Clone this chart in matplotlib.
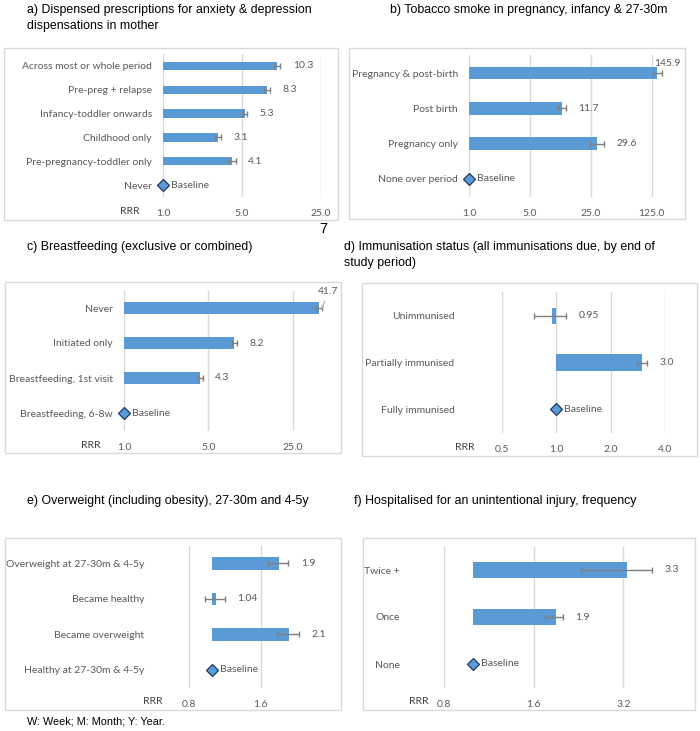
import matplotlib
matplotlib.use("Agg")
import matplotlib.pyplot as plt
from matplotlib import font_manager
from matplotlib.patches import Rectangle
from matplotlib.ticker import NullLocator

W, H = 700, 731

# a) anxiety & depression dispensing
a_labels = ["Across most or whole period", "Pre-preg + relapse", "Infancy-toddler onwards",
            "Childhood only", "Pre-pregnancy-toddler only", "Never"]
a_rrr = [10.3, 8.3, 5.3, 3.1, 4.1]
a_lo = [9.7, 7.8, 5.0, 2.9, 3.8]
a_hi = [11.0, 8.9, 5.6, 3.3, 4.4]
a_ticks = [1.0, 5.0, 25.0]

# b) tobacco smoke
b_labels = ["Pregnancy & post-birth", "Post birth", "Pregnancy only", "None over period"]
b_rrr = [145.9, 11.7, 29.6]
b_lo = [128.0, 10.6, 24.6]
b_hi = [166.0, 12.9, 35.5]
b_ticks = [1.0, 5.0, 25.0, 125.0]

# c) breastfeeding
c_labels = ["Never", "Initiated only", "Breastfeeding, 1st visit", "Breastfeeding, 6-8w"]
c_rrr = [41.7, 8.2, 4.3]
c_lo = [39.0, 7.8, 4.1]
c_hi = [44.0, 8.6, 4.5]
c_ticks = [1.0, 5.0, 25.0]

# d) immunisation
d_labels = ["Unimmunised", "Partially immunised", "Fully immunised"]
d_rrr = [0.95, 3.0]
d_lo = [0.75, 2.8]
d_hi = [1.14, 3.2]
d_ticks = [0.5, 1.0, 2.0, 4.0]

# e) overweight
e_labels = ["Overweight at 27-30m & 4-5y", "Became healthy", "Became overweight",
            "Healthy at 27-30m & 4-5y"]
e_rrr = [1.9, 1.04, 2.1]
e_lo = [1.72, 0.93, 1.87]
e_hi = [2.09, 1.13, 2.31]
e_ticks = [0.8, 1.6]

# f) injury hospitalisation
f_labels = ["Twice +", "Once", "None"]
f_rrr = [3.3, 1.9]
f_lo = [2.3, 1.74]
f_hi = [4.0, 2.0]
f_ticks = [0.8, 1.6, 3.2]

BAR = "#5B9BD5"
GRID = "#D9D9D9"
TXT = "#595959"

installed = {f.name for f in font_manager.fontManager.ttflist}
if "Liberation Sans Narrow" in installed:
    TITLE_FONT, TITLE_SIZE = "Liberation Sans Narrow", 10.6
else:
    TITLE_FONT, TITLE_SIZE = "Liberation Sans", 8.9
BODY_FONT = "Lato"
BODY_SIZE = 7.5

fig = plt.figure(figsize=(W / 100, H / 100), dpi=100)
fig.patch.set_facecolor("white")


def fx(x):
    return x / W


def fy(y):
    return 1 - y / H


def box(x0, y0, x1, y1):
    fig.add_artist(Rectangle((fx(x0), fy(y1)), fx(x1 - x0), (y1 - y0) / H,
                             transform=fig.transFigure, fill=False,
                             edgecolor=GRID, linewidth=1.0))


def title(x, y, text):
    fig.text(fx(x), fy(y), text, fontsize=TITLE_SIZE, family=TITLE_FONT,
             color="black", ha="left", va="center", linespacing=1.45)


def panel(rect, labels, rrr, lo, hi, ticks, xlim, ypad, rrr_pos=None, base=5):
    left, right, top, bottom = rect
    ax = fig.add_axes([fx(left), fy(bottom), fx(right - left), (bottom - top) / H])
    n = len(labels)
    ax.set_xscale("log", base=base)
    ax.set_xlim(*xlim)
    ax.set_ylim(n - 0.5, -0.5)
    for s in ax.spines.values():
        s.set_visible(False)
    ax.set_xticks(ticks)
    ax.set_xticklabels([f"{t:.1f}" for t in ticks])
    ax.xaxis.set_minor_locator(NullLocator())
    ax.xaxis.grid(True, color=GRID, linewidth=1.0)
    ax.set_axisbelow(True)
    ax.set_yticks(range(n))
    ax.set_yticklabels(labels)
    ax.tick_params(axis="both", length=0, colors=TXT, labelsize=BODY_SIZE)
    ax.tick_params(axis="y", pad=ypad)
    ax.tick_params(axis="x", pad=9)
    for t in ax.get_xticklabels() + ax.get_yticklabels():
        t.set_family(BODY_FONT)

    idx = list(range(len(rrr)))
    starts = [min(v, 1.0) for v in rrr]
    widths = [abs(v - 1.0) for v in rrr]
    ax.barh(idx, widths, left=starts, height=0.35, color=BAR, zorder=2)
    ax.errorbar(rrr, idx, xerr=[[v - l for v, l in zip(rrr, lo)],
                                [h - v for v, h in zip(rrr, hi)]],
                fmt="none", ecolor="#7F7F7F", elinewidth=1.0, capsize=2.5,
                capthick=1.0, zorder=3)

    ax.plot(1.0, n - 1, marker="D", ms=6.5, mfc=BAR, mec="#1F3864", mew=0.9,
            clip_on=False, zorder=4)
    ax.annotate("Baseline", (1.0, n - 1), xytext=(6, 0), textcoords="offset points",
                va="center", ha="left", fontsize=BODY_SIZE, family=BODY_FONT,
                color=TXT, annotation_clip=False)
    if rrr_pos is not None:
        fig.text(fx(rrr_pos[0]), fy(rrr_pos[1]), "RRR", fontsize=BODY_SIZE,
                 family=BODY_FONT, color="#404040", ha="center", va="center")
    return ax


def value_labels(ax, rrr, hi, skip=()):
    for i, (v, h) in enumerate(zip(rrr, hi)):
        if i in skip:
            continue
        ax.annotate(str(v), (max(v, h, 1.0), i), xytext=(9, 0),
                    textcoords="offset points", va="center", ha="left",
                    fontsize=BODY_SIZE, family=BODY_FONT, color=TXT,
                    annotation_clip=False)


# boxes
box(4, 48, 338, 220)
box(349, 48, 685, 219)
box(5, 282, 341, 453)
box(362, 283, 697, 456)
box(5, 538, 341, 710)
box(363, 538, 695, 710)

# titles
title(27, 18, "a) Dispensed prescriptions for anxiety & depression\ndispensations in mother")
title(390, 9.5, "b) Tobacco smoke in pregnancy, infancy & 27-30m")
title(27, 247, "c) Breastfeeding (exclusive or combined)")
title(344, 255, "d) Immunisation status (all immunisations due, by end of\nstudy period)")
title(27, 501, "e) Overweight (including obesity), 27-30m and 4-5y")
title(354, 501, "f) Hospitalised for an unintentional injury, frequency")

ax_a = panel((163, 320.7, 54, 197), a_labels, a_rrr, a_lo, a_hi, a_ticks, (1.0, 25.0),
             ypad=8, rrr_pos=(130, 212))
value_labels(ax_a, a_rrr, a_hi)

ax_b = panel((469, 665, 55.4, 196.6), b_labels, b_rrr, b_lo, b_hi, b_ticks, (1.0, 178.0),
             ypad=8)
value_labels(ax_b, b_rrr, b_hi, skip=(0,))
ax_b.annotate(str(b_rrr[0]), (b_hi[0], 0), xytext=(-6, 7), textcoords="offset points",
              va="center", ha="left", fontsize=BODY_SIZE, family=BODY_FONT,
              color=TXT, annotation_clip=False)

ax_c = panel((124, 330, 290.5, 430.5), c_labels, c_rrr, c_lo, c_hi, c_ticks, (1.0, 51.0),
             ypad=8, rrr_pos=(91, 445))
value_labels(ax_c, c_rrr, c_hi, skip=(0,))
ax_c.annotate(str(c_rrr[0]), (c_hi[0], 0), xytext=(-3, 12), textcoords="offset points",
              va="center", ha="left", fontsize=BODY_SIZE, family=BODY_FONT,
              color=TXT, annotation_clip=False,
              arrowprops=dict(arrowstyle="-", color="#A6A6A6", lw=0.8,
                              shrinkA=2, shrinkB=0))

ax_d = panel((501.7, 665, 292.3, 432.7), d_labels, d_rrr, d_lo, d_hi, d_ticks, (0.5, 4.0),
             ypad=34, rrr_pos=(465, 448), base=2)
value_labels(ax_d, d_rrr, d_hi)

ax_e = panel((189, 307, 545.6, 687.7), e_labels, e_rrr, e_lo, e_hi, e_ticks, (0.8, 2.5),
             ypad=32, rrr_pos=(153, 702), base=2)
value_labels(ax_e, e_rrr, e_hi)

ax_f = panel((444.3, 660, 546.5, 687.5), f_labels, f_rrr, f_lo, f_hi, f_ticks, (0.8, 4.25),
             ypad=32, rrr_pos=(419, 702), base=2)
value_labels(ax_f, f_rrr, f_hi)

# page number and footnote
fig.text(fx(323), fy(229), "7", fontsize=10.5, family="Liberation Sans",
         color="black", ha="center", va="center")
fig.text(fx(27), fy(722), "W: Week; M: Month; Y: Year.", fontsize=TITLE_SIZE * 0.88,
         family=TITLE_FONT, color="black", ha="left", va="center")

fig.savefig("out.png", dpi=100, facecolor="white")
